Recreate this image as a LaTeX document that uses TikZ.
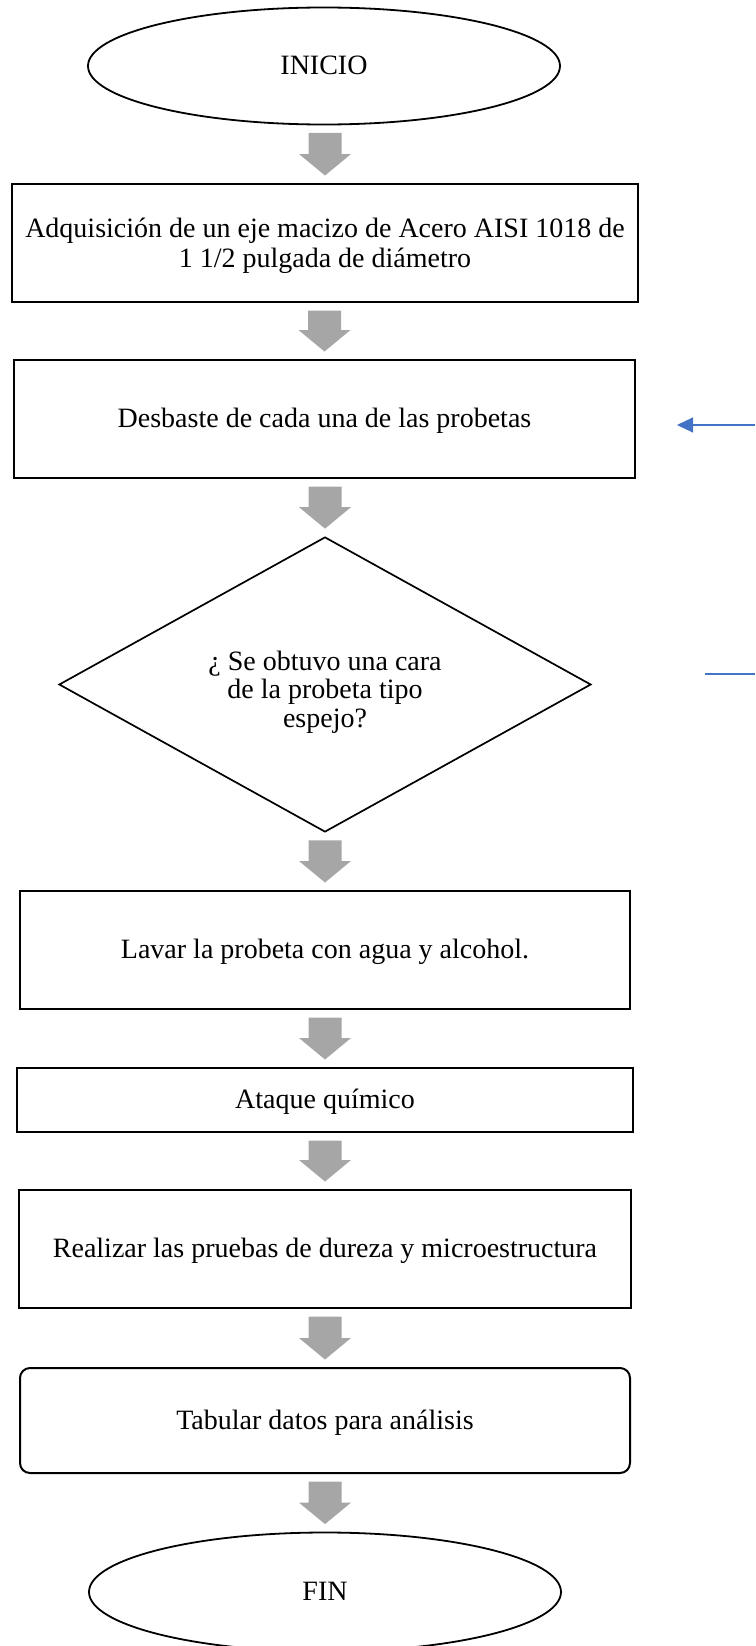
\documentclass[tikz,border=0pt]{standalone}
\usepackage{fontspec}
\setmainfont{Liberation Serif}
\usetikzlibrary{shapes.geometric,arrows.meta,calc}
\definecolor{arrowgray}{HTML}{A6A6A6}
\definecolor{linkblue}{HTML}{4472C4}
\newcommand\garrow[2]{%
  \fill[arrowgray] let \p1=(#1.south), \p2=(#2.north) in
    (\x2-16.5,\y1-7.5) -- (\x2+16.5,\y1-7.5) -- (\x2+16.5,\y2+29) --
    (\x2+26,\y2+29) -- (\x2,\y2+7.5) -- (\x2-26,\y2+29) --
    (\x2-16.5,\y2+29) -- cycle;}
\begin{document}
\begin{tikzpicture}[x=1pt,y=-1pt,
  every node/.style={font=\fontsize{28}{30}\selectfont},
  oneline/.style={text height=20pt,text depth=3pt},
  procbox/.style={draw=black,line width=2pt,rectangle,align=center,inner sep=0pt},
  roundbox/.style={procbox,rounded corners=10pt},
  termin/.style={draw=black,line width=1.8pt,ellipse,align=center,inner sep=0pt,oneline},
  decision/.style={draw=black,line width=1.7pt,diamond,shape aspect=1.8,align=center,inner sep=0pt,
    font=\fontsize{28}{28.5}\selectfont},
  bluelink/.style={draw=linkblue,line width=1.1pt}]
\useasboundingbox (0,0) rectangle (755,1646);

\node[termin, minimum width=472pt, minimum height=117pt] (inicio) at (324,66) {INICIO};
\node[procbox, minimum width=626pt, minimum height=118pt] (adq) at (325,243)
  {\rule{0pt}{26pt}Adquisición de un eje macizo de Acero AISI 1018 de\\1 1/2 pulgada de diámetro};
\node[procbox, oneline, minimum width=621pt, minimum height=118pt] (desb) at (324.5,419)
  {Desbaste de cada una de las probetas};
\node[decision, minimum width=532pt, minimum height=295pt] (dec) at (325,684.5)
  {\rule{0pt}{34pt}¿ Se obtuvo una cara\\de la probeta tipo\\espejo?};
\node[procbox, oneline, minimum width=610pt, minimum height=118pt] (lavar) at (325,950)
  {Lavar la probeta con agua y alcohol.};
\node[procbox, oneline, minimum width=616pt, minimum height=64pt] (ataque) at (325,1100)
  {Ataque químico};
\node[procbox, oneline, minimum width=612pt, minimum height=118pt] (pruebas) at (325,1249)
  {Realizar las pruebas de dureza y microestructura};
\node[roundbox, oneline, minimum width=610pt, minimum height=105pt] (tabular) at (325,1420.5)
  {Tabular datos para análisis};
\node[termin, minimum width=472pt, minimum height=119pt] (fin) at (325,1592) {FIN};

\garrow{inicio}{adq}
\garrow{adq}{desb}
\garrow{desb}{dec}
\garrow{dec}{lavar}
\garrow{lavar}{ataque}
\garrow{ataque}{pruebas}
\garrow{pruebas}{tabular}
\garrow{tabular}{fin}

\coordinate (bluestart) at (755,425);
\coordinate (bluetip) at (677,425);
\draw[bluelink,-{Triangle[length=16pt,width=15pt]}] (bluestart) -- (bluetip);
\coordinate (bluelineA) at (755,674);
\coordinate (bluelineB) at (705,674);
\draw[bluelink] (bluelineA) -- (bluelineB);
\end{tikzpicture}
\end{document}
